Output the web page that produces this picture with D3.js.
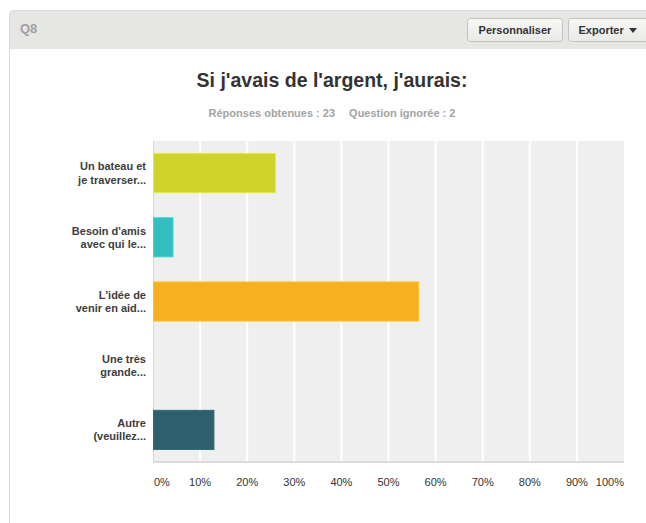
<!DOCTYPE html>
<html>
<head>
<meta charset="utf-8">
<script src="https://cdn.jsdelivr.net/npm/d3@7"></script>
<style>
  body { margin: 0; background: #fff; }
  svg { display: block; font-family: "Liberation Sans", Arial, sans-serif; }
  .btn-text { font-size: 11px; font-weight: bold; fill: #333; }
  .y-label { font-size: 11px; font-weight: bold; fill: #3d3d3d; }
  .x-tick { font-size: 11px; fill: #333; }
</style>
</head>
<body>
<svg id="chart"></svg>
<script>
// Data (23 answers)
const categories = [
  ["Un bateau et", "je traverser..."],
  ["Besoin d'amis", "avec qui le..."],
  ["L'idée de", "venir en aid..."],
  ["Une très", "grande..."],
  ["Autre", "(veuillez..."]
];
const percentages = [26.09, 4.35, 56.52, 0, 13.04];
const barColors = ["#d0d42a", "#33bfc0", "#f7b01f", "#7fba42", "#2e5f6d"];
const tickValues = [0, 10, 20, 30, 40, 50, 60, 70, 80, 90, 100];

const config = {
  width: 646,
  height: 523,
  margin: {top: 141, right: 22, bottom: 61, left: 153}
};

const svg = d3.select('#chart')
    .attr('width', config.width)
    .attr('height', config.height);

// Panel frame + header bar
svg.append('path')
    .attr('d', 'M9.5,530 V14 Q9.5,10.5 13,10.5 H660 V530')
    .attr('fill', '#fff')
    .attr('stroke', '#d9d9d9');
svg.append('path')
    .attr('d', 'M10,49 V14 Q10,11 13,11 H660 V49 Z')
    .attr('fill', '#e6e6e4');
svg.append('text')
    .attr('x', 20).attr('y', 33)
    .style('font-size', '13px').style('font-weight', 'bold')
    .attr('fill', '#a0a0a0')
    .text('Q8');

// Header buttons
const grad = svg.append('defs').append('linearGradient')
    .attr('id', 'btnGrad').attr('x1', 0).attr('x2', 0).attr('y1', 0).attr('y2', 1);
grad.append('stop').attr('offset', '0%').attr('stop-color', '#f8f8f6');
grad.append('stop').attr('offset', '100%').attr('stop-color', '#e9e9e7');

const buttons = [
  {label: 'Personnaliser', x: 467.5, w: 95},
  {label: 'Exporter', x: 568.5, w: 90}
];
buttons.forEach(b => {
  svg.append('rect')
      .attr('x', b.x).attr('y', 18.5)
      .attr('width', b.w).attr('height', 23)
      .attr('rx', 3)
      .attr('fill', 'url(#btnGrad)')
      .attr('stroke', '#c3c3c3');
  svg.append('text')
      .attr('class', 'btn-text')
      .attr('x', b.label === 'Exporter' ? b.x + 10 : b.x + b.w / 2)
      .attr('y', 34)
      .style('text-anchor', b.label === 'Exporter' ? 'start' : 'middle')
      .text(b.label);
});
// dropdown caret
svg.append('path')
    .attr('d', 'M629,28 L637,28 L633,33 Z')
    .attr('fill', '#333');

// Title and subtitle
svg.append('text')
    .attr('x', 332).attr('y', 87)
    .style('text-anchor', 'middle')
    .style('font-size', '19.5px').style('font-weight', 'bold')
    .attr('fill', '#333')
    .text("Si j'avais de l'argent, j'aurais:");

const sub = svg.append('text')
    .attr('x', 332).attr('y', 117)
    .style('text-anchor', 'middle')
    .style('font-size', '11px').style('font-weight', 'bold')
    .attr('fill', '#a3a3a3');
sub.append('tspan').text('Réponses obtenues : 23');
sub.append('tspan').attr('dx', 14).text('Question ignorée : 2');

// Chart area
const innerW = config.width - config.margin.left - config.margin.right;
const innerH = config.height - config.margin.top - config.margin.bottom;

const chart = svg.append('g')
    .attr('transform', `translate(${config.margin.left},${config.margin.top})`);

const xScale = d3.scaleLinear().domain([0, 100]).range([0, innerW]);
const yScale = d3.scaleBand()
    .domain(d3.range(categories.length))
    .range([0, innerH])
    .paddingInner(0.375)
    .paddingOuter(0.1875);

chart.append('rect')
    .attr('width', innerW).attr('height', innerH)
    .attr('fill', '#efefef');

// vertical gridlines
chart.selectAll('.grid')
    .data(tickValues.slice(1, -1))
    .join('line')
    .attr('class', 'grid')
    .attr('x1', d => xScale(d)).attr('x2', d => xScale(d))
    .attr('y1', 0).attr('y2', innerH)
    .attr('stroke', '#fff')
    .attr('stroke-width', 2);

// left border and baseline
chart.append('line')
    .attr('x1', 0.5).attr('x2', 0.5).attr('y1', 0).attr('y2', innerH)
    .attr('stroke', '#d6d6d6');
chart.append('line')
    .attr('x1', 0).attr('x2', innerW).attr('y1', innerH).attr('y2', innerH)
    .attr('stroke', '#dcdcdc').attr('stroke-width', 2);

// bars
chart.selectAll('.bar')
    .data(percentages)
    .join('rect')
    .attr('class', 'bar')
    .attr('x', 0.5)
    .attr('y', (d, i) => yScale(i) + 0.5)
    .attr('width', d => Math.max(0, xScale(d) - 1))
    .attr('height', yScale.bandwidth() - 1)
    .attr('fill', (d, i) => barColors[i])
    .attr('stroke', (d, i) => d3.color(barColors[i]).brighter(0.3))
    .attr('stroke-width', d => d > 0 ? 1 : 0);

// category labels (two lines, right aligned)
const labels = chart.selectAll('.y-label')
    .data(categories)
    .join('text')
    .attr('class', 'y-label')
    .attr('x', -7)
    .attr('y', (d, i) => yScale(i) + yScale.bandwidth() / 2)
    .style('text-anchor', 'end');
labels.selectAll('tspan')
    .data(d => d)
    .join('tspan')
    .attr('x', -7)
    .attr('dy', (d, j) => j === 0 ? '-0.25em' : '1.2em')
    .text(d => d);

// x tick labels
chart.selectAll('.x-tick')
    .data(tickValues)
    .join('text')
    .attr('class', 'x-tick')
    .attr('x', d => d === 0 ? 1 : xScale(d))
    .attr('y', innerH + 24)
    .style('text-anchor', d => d === 0 ? 'start' : d === 100 ? 'end' : 'middle')
    .text(d => d + '%');
</script>
</body>
</html>
